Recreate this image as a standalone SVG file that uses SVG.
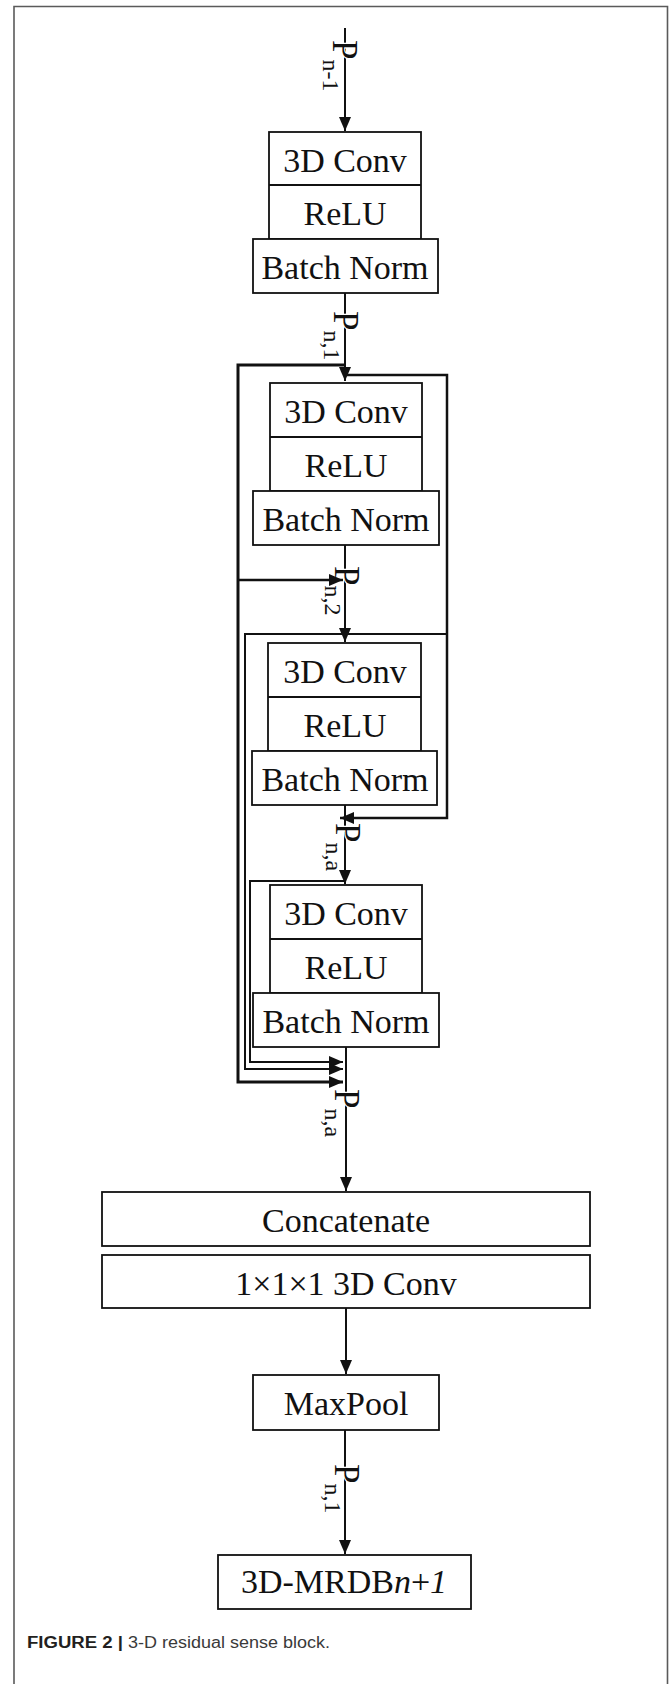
<svg xmlns="http://www.w3.org/2000/svg" width="669" height="1684" viewBox="0 0 669 1684">
<style>
.box{fill:#fff;stroke:#111;stroke-width:1.8}
.t{font-family:"Liberation Serif","Times New Roman",serif;font-size:34px;fill:#111;text-anchor:middle}
.ln{fill:none;stroke:#111;stroke-width:2}
.lbl{font-family:"Liberation Serif","Times New Roman",serif;font-size:35px;fill:#111;stroke:#fff;stroke-width:2.5;paint-order:stroke}
.sub{font-size:24px}
.cap{font-family:"Liberation Sans",Arial,sans-serif;font-size:16px}
</style>
<defs>
<marker id="ah" markerUnits="userSpaceOnUse" markerWidth="14" markerHeight="12" refX="14" refY="6" orient="auto">
<path d="M0,0 L14,6 L0,12 z" fill="#111"/>
</marker>
</defs>
<path d="M14,1684 V6.5 H667.5 V1684" fill="none" stroke="#5a5a5a" stroke-width="1.6"/>
<g id="connectors">
<path class="ln" d="M345,28 V131" marker-end="url(#ah)"/>
<path class="ln" d="M345,293 V381" marker-end="url(#ah)"/>
<path class="ln" d="M345,545 V642" marker-end="url(#ah)"/>
<path class="ln" d="M345,805 V884" marker-end="url(#ah)"/>
<path class="ln" d="M346,1047 V1191" marker-end="url(#ah)"/>
<path class="ln" d="M346,1308 V1374" marker-end="url(#ah)"/>
<path class="ln" d="M345,1430 V1554" marker-end="url(#ah)"/>
<text class="lbl" transform="translate(333,40) rotate(90)">P<tspan class="sub" dy="10">n-1</tspan></text>
<text class="lbl" transform="translate(334,311) rotate(90)">P<tspan class="sub" dy="10">n,1</tspan></text>
<text class="lbl" transform="translate(335,566) rotate(90)">P<tspan class="sub" dy="10">n,2</tspan></text>
<text class="lbl" transform="translate(336,823) rotate(90)">P<tspan class="sub" dy="10">n,a</tspan></text>
<text class="lbl" transform="translate(335,1089) rotate(90)">P<tspan class="sub" dy="10">n,a</tspan></text>
<text class="lbl" transform="translate(335,1464) rotate(90)">P<tspan class="sub" dy="10">n,1</tspan></text>
<path class="ln" style="stroke-width:3" d="M345,365 H238 V1082 H343" marker-end="url(#ah)"/>
<path class="ln" style="stroke-width:2.5" d="M238,580 H343" marker-end="url(#ah)"/>
<path class="ln" style="stroke-width:2.5" d="M345,375 H447 V818 H340" marker-end="url(#ah)"/>
<path class="ln" d="M447,634 H245 V1069 H343" marker-end="url(#ah)"/>
<path class="ln" d="M345,881 H250 V1062 H343" marker-end="url(#ah)"/>
</g>
<g id="block1">
<rect class="box" x="269" y="132" width="152" height="107"/>
<line class="ln" x1="269" y1="185" x2="421" y2="185" style="stroke-width:1.8"/>
<rect class="box" x="253" y="239" width="185" height="54"/>
<text class="t" x="345" y="172">3D Conv</text>
<text class="t" x="345" y="225">ReLU</text>
<text class="t" x="345" y="279">Batch Norm</text>
</g>
<g id="block2">
<rect class="box" x="270" y="383" width="152" height="108"/>
<line class="ln" x1="270" y1="437" x2="422" y2="437" style="stroke-width:1.8"/>
<rect class="box" x="253" y="491" width="186" height="54"/>
<text class="t" x="346" y="423">3D Conv</text>
<text class="t" x="346" y="477">ReLU</text>
<text class="t" x="346" y="531">Batch Norm</text>
</g>
<g id="block3">
<rect class="box" x="268" y="643" width="153" height="108"/>
<line class="ln" x1="268" y1="697" x2="421" y2="697" style="stroke-width:1.8"/>
<rect class="box" x="252" y="751" width="185" height="54"/>
<text class="t" x="345" y="683">3D Conv</text>
<text class="t" x="345" y="737">ReLU</text>
<text class="t" x="345" y="791">Batch Norm</text>
</g>
<g id="block4">
<rect class="box" x="270" y="885" width="152" height="108"/>
<line class="ln" x1="270" y1="939" x2="422" y2="939" style="stroke-width:1.8"/>
<rect class="box" x="253" y="993" width="186" height="54"/>
<text class="t" x="346" y="925">3D Conv</text>
<text class="t" x="346" y="979">ReLU</text>
<text class="t" x="346" y="1033">Batch Norm</text>
</g>
<g id="concatenate">
<rect class="box" x="102" y="1192" width="488" height="54"/>
<text class="t" x="346" y="1232">Concatenate</text>
</g>
<g id="conv111">
<rect class="box" x="102" y="1255" width="488" height="53"/>
<text class="t" x="346" y="1295">1×1×1 3D Conv</text>
</g>
<g id="maxpool">
<rect class="box" x="253" y="1375" width="186" height="55"/>
<text class="t" x="346" y="1415">MaxPool</text>
</g>
<g id="mrdb">
<rect class="box" x="218" y="1555" width="253" height="54"/>
<text class="t" x="344" y="1593">3D-MRDB<tspan font-style="italic">n</tspan>+<tspan font-style="italic">1</tspan></text>
</g>
<g id="caption">
<text class="cap" x="27" y="1648" font-weight="bold" fill="#231f20" textLength="96" lengthAdjust="spacingAndGlyphs">FIGURE 2 |</text>
<text class="cap" x="128" y="1648" fill="#3a3a3a" textLength="202" lengthAdjust="spacingAndGlyphs">3-D residual sense block.</text>
</g>
</svg>
